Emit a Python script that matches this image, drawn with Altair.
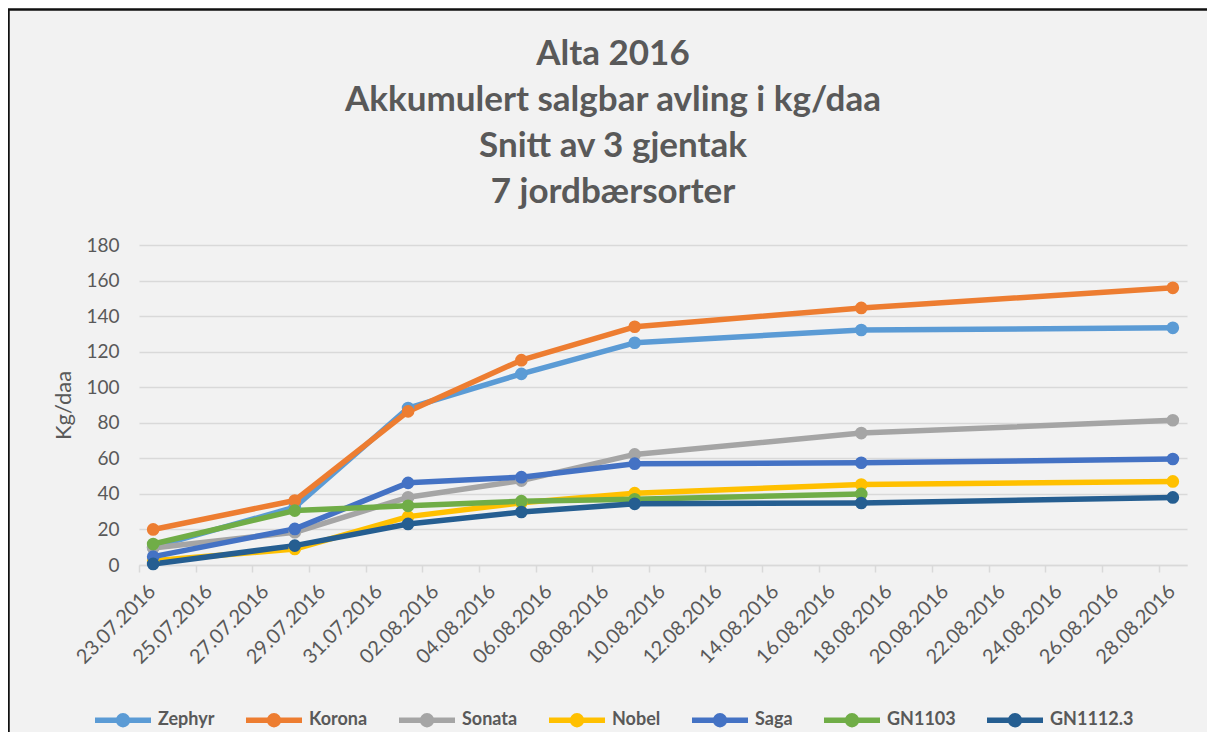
import altair as alt
import pandas as pd

# ---------------- data ----------------
dates = ["2016-07-23", "2016-07-28", "2016-08-01", "2016-08-05",
         "2016-08-09", "2016-08-17", "2016-08-28"]
varieties = ["Zephyr", "Korona", "Sonata", "Nobel", "Saga", "GN1103", "GN1112.3"]
zephyr = [10.0, 32.5, 88.3, 107.5, 125.0, 132.2, 133.4]
korona = [20.0, 36.3, 86.4, 115.2, 134.0, 144.6, 155.9]
sonata = [9.6, 18.4, 38.1, 47.5, 62.2, 74.2, 81.4]
nobel = [2.4, 9.0, 27.2, 35.0, 40.4, 45.3, 47.0]
saga = [4.7, 20.3, 46.2, 49.4, 57.0, 57.5, 59.6]
gn1103 = [11.8, 30.6, 33.3, 35.9, 37.0, 40.0, None]
gn1112 = [0.6, 10.9, 23.1, 29.8, 34.4, 34.9, 38.0]
colors = ["#5B9BD5", "#ED7D31", "#A5A5A5", "#FFC000", "#4472C4", "#70AD47", "#255E91"]
tick_dates = ["2016-07-23", "2016-07-25", "2016-07-27", "2016-07-29", "2016-07-31",
              "2016-08-02", "2016-08-04", "2016-08-06", "2016-08-08", "2016-08-10",
              "2016-08-12", "2016-08-14", "2016-08-16", "2016-08-18", "2016-08-20",
              "2016-08-22", "2016-08-24", "2016-08-26", "2016-08-28"]
title_lines = ["Alta 2016", "Akkumulert salgbar avling i kg/daa",
               "Snitt av 3 gjentak", "7 jordbærsorter"]

series = [zephyr, korona, sonata, nobel, saga, gn1103, gn1112]
rows = []
for order, (name, vals) in enumerate(zip(varieties, series)):
    for d, v in zip(dates, vals):
        if v is not None:
            rows.append({"date": d + "T12:00:00", "sort": order, "Sort": name, "value": v})
df = pd.DataFrame(rows)


def dt(s):
    y, m, d = (int(p) for p in s.split("-"))
    return alt.DateTime(year=y, month=m, date=d)


W, H = 1048, 320
PL, PT = 131, 237
TOTAL_W, TOTAL_H = 1199, 724
TEXT = "#595959"
GRID = "#D9D9D9"

x_enc = alt.X(
    "date:T",
    scale=alt.Scale(domain=[dt("2016-07-23"), dt("2016-08-29")]),
    axis=alt.Axis(
        values=[dt(s) for s in tick_dates],
        format="%d.%m.%Y",
        title=None,
        labelAngle=-45,
        labelAlign="right",
        labelBaseline="middle",
        labelOffset=13,
        labelPadding=16,
        labelFont="Lato",
        labelFontSize=20,
        labelColor=TEXT,
        grid=False,
        domainColor=GRID,
        domainWidth=1.5,
        tickColor=GRID,
        tickWidth=1.5,
        tickSize=7,
        labelOverlap=False,
    ),
)
y_enc = alt.Y(
    "value:Q",
    scale=alt.Scale(domain=[0, 180]),
    axis=alt.Axis(
        values=[0, 20, 40, 60, 80, 100, 120, 140, 160, 180],
        title="Kg/daa",
        titleFont="Lato",
        titleFontSize=22,
        titleFontWeight="normal",
        titleColor=TEXT,
        titleX=-76,
        titleY=H / 2,
        titleAngle=-90,
        titleAlign="center",
        titleBaseline="middle",
        labelFont="Lato",
        labelFontSize=19,
        labelColor=TEXT,
        labelPadding=20,
        ticks=False,
        domain=False,
        grid=True,
        gridColor=GRID,
        gridWidth=1.5,
    ),
)

legend_path = ("M-1,0L1,0 "
               "M-0.16,0A0.16,0.16 0 1 1 0.16,0A0.16,0.16 0 1 1 -0.16,0 "
               "M-0.07,0A0.07,0.07 0 1 1 0.07,0A0.07,0.07 0 1 1 -0.07,0")

color_scale = alt.Scale(domain=varieties, range=colors)
legend = alt.Legend(
    title=None,
    orient="none",
    direction="horizontal",
    legendX=-47,
    legendY=444,
    symbolType=legend_path,
    symbolSize=3136,
    symbolStrokeWidth=5.5,
    symbolFillColor="transparent",
    labelFont="Lato",
    labelFontSize=18,
    labelFontWeight="bold",
    labelColor=TEXT,
    labelOffset=4,
    columnPadding=20,
    padding=0,
)
color_enc = alt.Color("Sort:N", scale=color_scale, legend=legend)

lines = alt.Chart(df).mark_line(strokeWidth=5.5, strokeJoin="round", strokeCap="round").encode(
    x=x_enc,
    y=y_enc,
    color=color_enc,
    order="date:T",
)

points = alt.Chart(df).mark_point(filled=True, size=160, opacity=1).encode(
    x=x_enc,
    y=y_enc,
    color=color_enc,
)

title_df = pd.DataFrame({"t": [title_lines]})
title_mark = alt.Chart(title_df).mark_text(
    font="Lato", fontSize=35, fontWeight="bold", color=TEXT,
    align="center", baseline="alphabetic", lineHeight=46,
).encode(text="t", x=alt.value(613 - (PL + 8)), y=alt.value(65 - (PT + 8)))

frame = pd.DataFrame({"k": [0]})
left_border = alt.Chart(frame).mark_rule(color="#111111", strokeWidth=2.5).encode(
    x=alt.value(-PL + 0.5), y=alt.value(-PT + 1), y2=alt.value(TOTAL_H)
)
top_border = alt.Chart(frame).mark_rule(color="#111111", strokeWidth=2.5).encode(
    x=alt.value(-PL), x2=alt.value(TOTAL_W), y=alt.value(-PT + 1.5)
)

chart = alt.layer(lines, points, title_mark, left_border, top_border).properties(
    width=W,
    height=H,
    autosize=alt.AutoSizeParams(type="none"),
    padding={"left": PL, "top": PT, "right": TOTAL_W - PL - W, "bottom": TOTAL_H - PT - H},
).configure(background="#F2F2F2").configure_view(stroke=None)

chart.save("out.html", embed_options={"renderer": "svg", "actions": False})
